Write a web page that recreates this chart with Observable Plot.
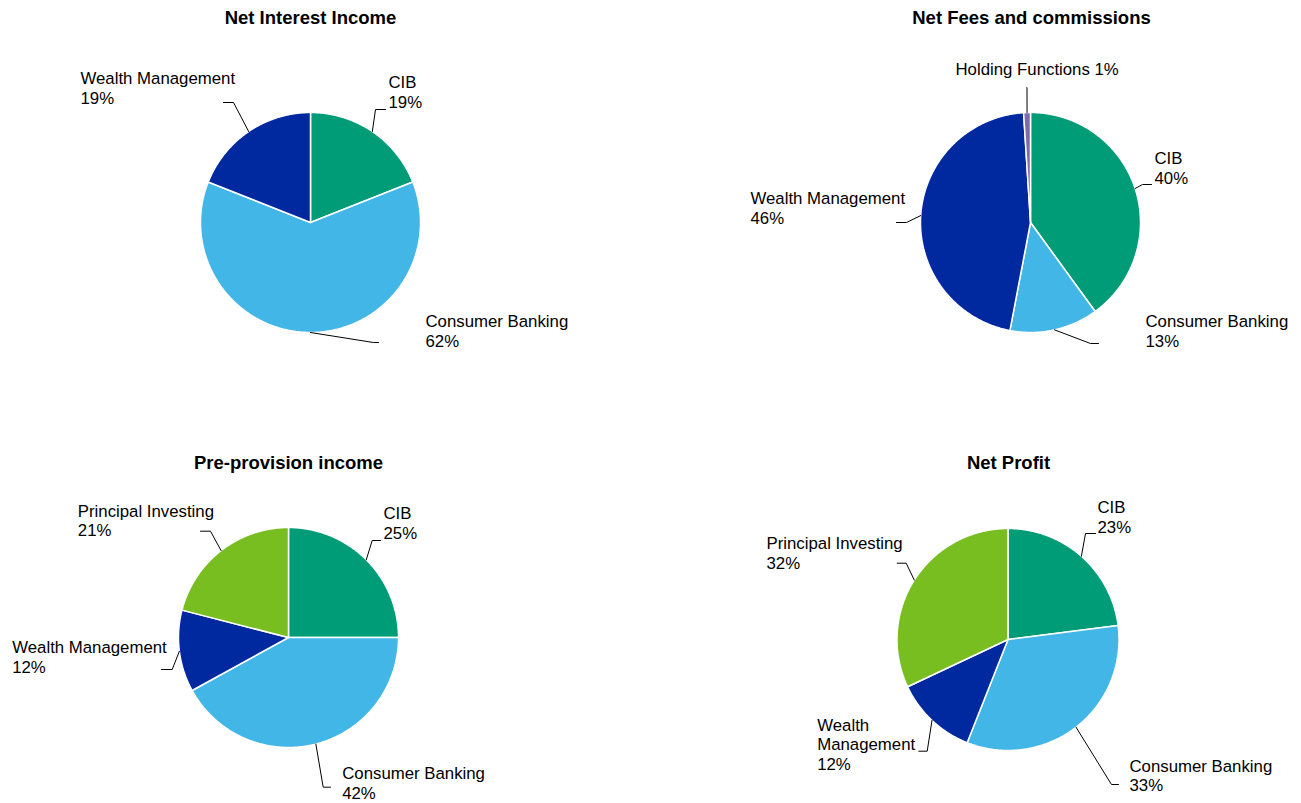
<!DOCTYPE html>
<html><head><meta charset="utf-8">
<script src="https://cdn.jsdelivr.net/npm/d3@7"></script>
<script src="https://cdn.jsdelivr.net/npm/@observablehq/plot@0.6"></script>
<style>body{margin:0;background:#fff}</style>
</head><body><div id="chart"></div>
<script>
// ---- Data ----
const titles = ["Net Interest Income", "Net Fees and commissions", "Pre-provision income", "Net Profit"];
const segmentsNII = ["CIB", "Consumer Banking", "Wealth Management"];
const valuesNII = [19, 62, 19];
const segmentsFees = ["CIB", "Consumer Banking", "Wealth Management", "Holding Functions"];
const valuesFees = [40, 13, 46, 1];
const segmentsPPI = ["CIB", "Consumer Banking", "Wealth Management", "Principal Investing"];
const valuesPPI = [25, 42, 12, 21];
const segmentsNP = ["CIB", "Consumer Banking", "Wealth Management", "Principal Investing"];
const valuesNP = [23, 33, 12, 32];

// ---- Styles ----
const colors = {
  "CIB": "#009B77",
  "Consumer Banking": "#42B6E6",
  "Wealth Management": "#00289F",
  "Principal Investing": "#78BE21",
  "Holding Functions": "#8268A8"
};
const W = 1301, H = 803;
const labelSize = 16.8, titleSize = 18.5;

// ---- Layout (pie centres, label anchors, leader elbows) ----
const pies = [
  {cx: 310, cy: 222, r: 110, tx: 310, ty: 23},
  {cx: 1030, cy: 222, r: 110, tx: 1031, ty: 23},
  {cx: 288, cy: 637, r: 110, tx: 288, ty: 468},
  {cx: 1007.5, cy: 639, r: 111, tx: 1008, ty: 468}
];
// per slice: label left x, first baseline, elbow, end of leader, wrap mode
const labelLayout = [
  [
    {lx: 388, lb: 86, ex: 375, ey: 109, hx: 385, mode: 2},
    {lx: 425, lb: 325, ex: 373, ey: 342, hx: 378, mode: 2},
    {lx: 80, lb: 82, ex: 233, ey: 102, hx: 223, mode: 2}
  ],
  [
    {lx: 1154, lb: 162, ex: 1142, ey: 184, hx: 1151, mode: 2},
    {lx: 1145, lb: 325, ex: 1090, ey: 343, hx: 1098, mode: 2},
    {lx: 750, lb: 202, ex: 906, ey: 222, hx: 896, mode: 2},
    {lx: 955, lb: 73, ex: 1026.5, ey: 87, hx: 1026.5, mode: 1}
  ],
  [
    {lx: 383, lb: 517, ex: 371.7, ey: 540, hx: 380, mode: 2},
    {lx: 341.7, lb: 777, ex: 322.7, ey: 786.7, hx: 330, mode: 2},
    {lx: 11.7, lb: 651, ex: 171.7, ey: 669, hx: 161, mode: 2},
    {lx: 77.3, lb: 514.3, ex: 210, ey: 530.7, hx: 200, mode: 2}
  ],
  [
    {lx: 1097, lb: 511, ex: 1085, ey: 533, hx: 1095, mode: 2},
    {lx: 1129, lb: 769.7, ex: 1111, ey: 784, hx: 1118, mode: 2},
    {lx: 816.7, lb: 728.7, ex: 926.7, ey: 750.7, hx: 918.3, mode: 3},
    {lx: 766, lb: 547, ex: 905.7, ey: 562.7, hx: 896.7, mode: 2}
  ]
];

const datasets = [
  [segmentsNII, valuesNII],
  [segmentsFees, valuesFees],
  [segmentsPPI, valuesPPI],
  [segmentsNP, valuesNP]
];

// ---- Build geometry from data ----
const sliceMarks = [];
const leaderPts = [];
const labelRows = [];
const titleRows = [];
datasets.forEach(([segs, vals], i) => {
  const p = pies[i];
  titleRows.push({x: p.tx, y: p.ty - 0.71 * titleSize, text: titles[i]});
  const rows = segs.map((s, j) => ({name: s, value: vals[j]}));
  const arcs = d3.pie().sort(null).value(d => d.value)(rows);
  arcs.forEach((a, j) => {
    const pts = [[p.cx, p.cy]];
    const n = Math.max(2, Math.ceil((a.endAngle - a.startAngle) / (Math.PI / 360)));
    for (let k = 0; k <= n; k++) {
      const t = a.startAngle + (a.endAngle - a.startAngle) * k / n;
      pts.push([p.cx + p.r * Math.sin(t), p.cy - p.r * Math.cos(t)]);
    }
    pts.push([p.cx, p.cy]);
    sliceMarks.push(Plot.line(pts, {
      x: d => d[0], y: d => d[1],
      fill: colors[a.data.name], stroke: "white", strokeWidth: 1.5, strokeLinejoin: "round"
    }));
    const L = labelLayout[i][j];
    const mid = (a.startAngle + a.endAngle) / 2;
    const key = i + "-" + j;
    leaderPts.push({x: p.cx + p.r * Math.sin(mid), y: p.cy - p.r * Math.cos(mid), key});
    leaderPts.push({x: L.ex, y: L.ey, key});
    leaderPts.push({x: L.hx, y: L.ey, key});
    const pct = a.data.value + "%";
    let text;
    if (L.mode === 1) text = a.data.name + " " + pct;
    else if (L.mode === 3) text = a.data.name.split(" ").join("\n") + "\n" + pct;
    else text = a.data.name + "\n" + pct;
    labelRows.push({x: L.lx, y: L.lb - 0.71 * labelSize, text});
  });
});

const chart = Plot.plot({
  width: W, height: H,
  margin: 0,
  x: {domain: [0, W], range: [0, W], axis: null},
  y: {domain: [0, H], range: [0, H], axis: null},
  style: {fontFamily: "'Liberation Sans', Arial, sans-serif", background: "white"},
  marks: [
    ...sliceMarks,
    Plot.line(leaderPts, {x: "x", y: "y", z: "key", stroke: "#000", strokeWidth: 1}),
    Plot.text(labelRows, {x: "x", y: "y", text: "text", textAnchor: "start", lineAnchor: "top",
      fontSize: labelSize, lineHeight: 1.15, fill: "#000"}),
    Plot.text(titleRows, {x: "x", y: "y", text: "text", textAnchor: "middle", lineAnchor: "top",
      fontSize: titleSize, fontWeight: "bold", fill: "#000"})
  ]
});
document.getElementById("chart").appendChild(chart);
</script>
</body></html>
